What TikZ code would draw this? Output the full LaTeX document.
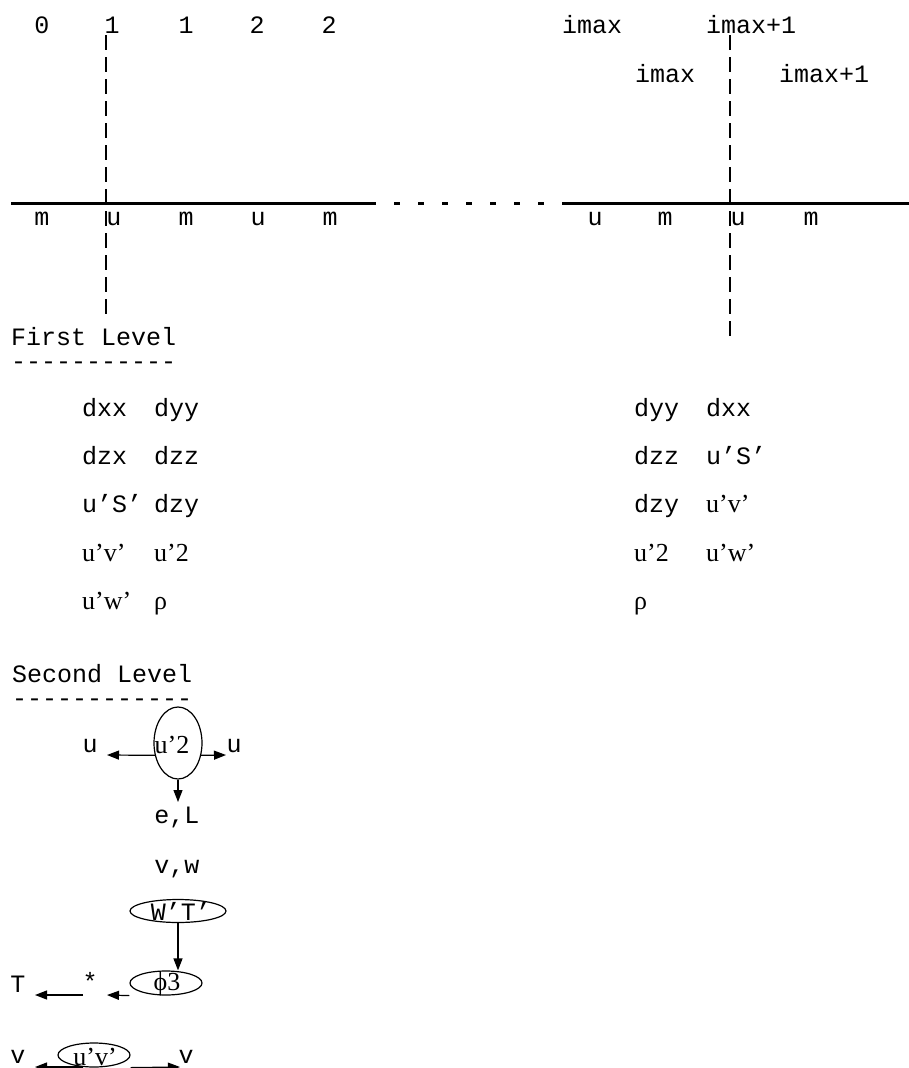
\documentclass[tikz,border=0pt]{standalone}
\usepackage{fontspec}
\setmainfont{Liberation Serif}
\newfontfamily\monofam{Liberation Mono}
\usetikzlibrary{arrows.meta,shapes.geometric}
\newcommand\hh{\mbox{-}}
\tikzset{
  mt/.style={font=\monofam\fontsize{25}{25}\selectfont, inner sep=0pt, anchor=base},
  mtw/.style={mt, anchor=base west},
  st/.style={font=\fontsize{26}{26}\selectfont, inner sep=0pt, anchor=base},
  stw/.style={st, anchor=base west},
  axis/.style={line width=3pt},
  dotaxis/.style={line width=3pt, dash pattern=on 6pt off 18pt},
  cut/.style={line width=1.2pt, dash pattern=on 15pt off 7pt},
  arr/.style={-{Triangle[length=12pt,width=9pt]}, line width=1.2pt},
  ell/.style={draw, ellipse, line width=1.2pt, inner sep=0pt}
}
\begin{document}
\begin{tikzpicture}[x=1pt,y=-1pt]
\useasboundingbox[fill=white] (0,0) rectangle (909,1068);
% top index labels
\node[mt] (i0) at (42,33) {0};
\node[mt] (i1) at (112,33) {1};
\node[mt] (i1b) at (186,33) {1};
\node[mt] (i2) at (257,33) {2};
\node[mt] (i2b) at (329,33) {2};
\node[mt] (im) at (592,33) {imax};
\node[mt] (imp) at (751,33) {imax+1};
\node[mt] (im2) at (665,82) {imax};
\node[mt] (imp2) at (824,82) {imax+1};
% axis
\coordinate (ax0) at (11,203);
\coordinate (ax1) at (370,203);
\coordinate (ax2) at (563,203);
\coordinate (ax3) at (909,203);
\draw[axis] (ax0) -- (ax1);
\draw[dotaxis] (ax1) -- (ax2);
\draw[axis] (ax2) -- (ax3);
% cut lines
\coordinate (c1t) at (106,35);
\coordinate (c1b) at (106,317);
\coordinate (c2t) at (730,35);
\coordinate (c2b) at (730,342);
\draw[cut] (c1t) -- (c1b);
\draw[cut] (c2t) -- (c2b);
% m u labels
\node[mt] (l1) at (42,225) {m};
\node[mt] (l2) at (114,225) {u};
\node[mt] (l3) at (186,225) {m};
\node[mt] (l4) at (258,225) {u};
\node[mt] (l5) at (330,225) {m};
\node[mt] (r1) at (595,225) {u};
\node[mt] (r2) at (665,225) {m};
\node[mt] (r3) at (738,225) {u};
\node[mt] (r4) at (811,225) {m};
% First level
\node[mtw] (fl) at (11,345) {First Level};
\node[mtw] (flu) at (11,369) {\hh\hh\hh\hh\hh\hh\hh\hh\hh\hh\hh};
\node[mtw] (a11) at (82,416) {dxx};
\node[mtw] (a12) at (154,416) {dyy};
\node[mtw] (a21) at (82,464) {dzx};
\node[mtw] (a22) at (154,464) {dzz};
\node[mtw] (a31) at (82,512) {u’S’};
\node[mtw] (a32) at (154,512) {dzy};
\node[stw] (a41) at (82,561) {u’v’};
\node[stw] (a42) at (154,561) {u’2};
\node[stw] (a51) at (82,609) {u’w’};
\node[stw] (a52) at (154,609) {ρ};
\node[mtw] (b11) at (634,416) {dyy};
\node[mtw] (b12) at (706,416) {dxx};
\node[mtw] (b21) at (634,464) {dzz};
\node[mtw] (b22) at (706,464) {u’S’};
\node[mtw] (b31) at (634,512) {dzy};
\node[stw] (b32) at (706,512) {u’v’};
\node[stw] (b41) at (634,561) {u’2};
\node[stw] (b42) at (706,561) {u’w’};
\node[stw] (b51) at (634,609) {ρ};
% Second level
\node[mtw] (sl) at (12,682) {Second Level};
\node[mtw] (slu) at (12,706) {\hh\hh\hh\hh\hh\hh\hh\hh\hh\hh\hh\hh};
\node[ell, minimum width=48pt, minimum height=72pt] (e1) at (178,743) {};
\node[st] (e1t) at (172,753) {u’2};
\node[mt] (ul) at (90,752) {u};
\node[mt] (ur) at (234,752) {u};
\node[mt] (eL) at (177,823) {e,L};
\node[mt] (vw) at (177,873) {v,w};
\coordinate (e1l) at (107,755);
\coordinate (e1r) at (226,755);
\coordinate (e1d) at (178,802);
\draw[arr] (e1.208) -- (e1l);
\draw[arr] (e1.-28) -- (e1r);
\draw[arr] (e1.south) -- (e1d);
\node[ell, minimum width=96pt, minimum height=23pt] (w) at (178,911) {};
\node[mt] (wt) at (181,920) {W’T’};
\node[ell, minimum width=72pt, minimum height=24pt] (p) at (166,983) {};
\node[st] (pt) at (167,990) {ϕ3};
\draw[arr] (w.south) -- (w.south |- p.north);
\node[mt] (star) at (90,990) {*};
\node[mt] (T) at (18,992) {T};
\coordinate (pa) at (107,995);
\draw[arr] (p.west |- p.south) -- (pa);
\coordinate (sa0) at (83,995);
\coordinate (sa1) at (35,995);
\draw[arr] (sa0) -- (sa1);
% bottom
\node[ell, minimum width=72pt, minimum height=24pt] (uv) at (94,1055) {};
\node[st] (uvt) at (95,1065) {u’v’};
\node[mt] (vl) at (18,1063) {v};
\node[mt] (vr) at (186,1063) {v};
\coordinate (uvl0) at (83,1067);
\coordinate (uvl1) at (35,1067);
\coordinate (uvr1) at (180,1067);
\draw[arr] (uvl0) -- (uvl1);
\draw[arr] (uv.east |- uv.south) -- (uvr1);
\end{tikzpicture}
\end{document}
